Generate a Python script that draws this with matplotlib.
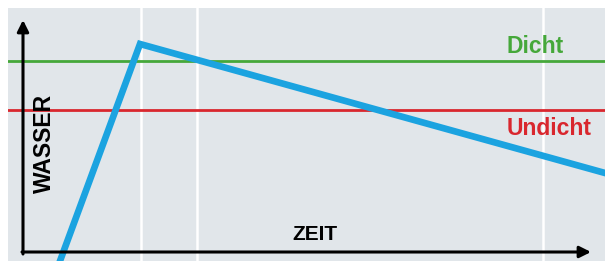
import matplotlib
matplotlib.use("Agg")
import matplotlib.pyplot as plt

# time / water level, origin where the two axes meet
line_time = [37, 117, 582]
line_water = [-9, 208, 79]
level_dicht = 191
level_undicht = 142
grid_time = [118, 174, 520]

BG = "#e1e6ea"
BLUE = "#1ba3e0"
GREEN = "#45a83a"
RED = "#d9272e"

plt.rcParams["font.family"] = ["Liberation Sans", "DejaVu Sans"]

fig = plt.figure(figsize=(6.05, 2.61), dpi=100)
fig.patch.set_facecolor("white")
ax = fig.add_axes([8 / 605, 0, 597 / 605, 253 / 261])
ax.set_facecolor(BG)
ax.set_xlim(-15, 582)
ax.set_ylim(-9, 244)
for s in ax.spines.values():
    s.set_visible(False)
ax.set_xticks([])
ax.set_yticks([])

for t in grid_time:
    ax.axvline(t, color="white", lw=1.8, zorder=1)

ax.axhline(level_dicht, color=GREEN, lw=2.0, zorder=2)
ax.axhline(level_undicht, color=RED, lw=2.0, zorder=2)
ax.plot(line_time, line_water, color=BLUE, lw=4.8, solid_joinstyle="miter", zorder=3)

# axes arrows
ax.annotate("", xy=(0, 232), xytext=(0, -2),
            arrowprops=dict(arrowstyle="-|>", lw=2.2, color="black", mutation_scale=17, shrinkA=0, shrinkB=0))
ax.annotate("", xy=(568, 0), xytext=(-1, 0),
            arrowprops=dict(arrowstyle="-|>", lw=2.2, color="black", mutation_scale=17, shrinkA=0, shrinkB=0))

ax.text(484, 199, "Dicht", color=GREEN, fontsize=16.5, fontweight="bold", ha="left", va="baseline")
ax.text(484, 117, "Undicht", color=RED, fontsize=16.5, fontweight="bold", ha="left", va="baseline")
ax.text(269, 12, "ZEIT", color="black", fontsize=15, fontweight="bold", ha="left", va="baseline")
ax.text(21, 109, "WASSER", color="black", fontsize=16.5, fontweight="bold", rotation=90, ha="center", va="center")

fig.savefig("out.png", dpi=100)
